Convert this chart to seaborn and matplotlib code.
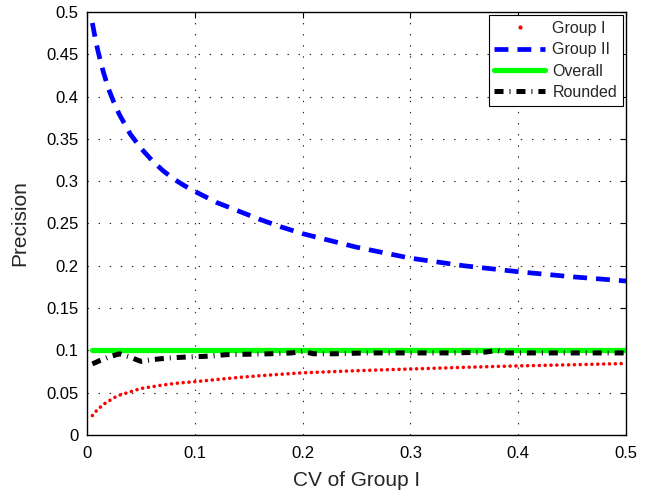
import matplotlib
matplotlib.use("Agg")
import matplotlib.pyplot as plt
import seaborn as sns
from matplotlib.lines import Line2D

# ---------------- data ----------------
cv = [0.005, 0.0075, 0.01, 0.0125, 0.015, 0.02, 0.025, 0.03, 0.04, 0.05, 0.06, 0.07, 0.08, 0.09,
      0.1, 0.12, 0.14, 0.16, 0.18, 0.2, 0.25, 0.3, 0.35, 0.4, 0.45, 0.5]
group1 = [0.023, 0.027, 0.030, 0.033, 0.036, 0.040, 0.044, 0.047, 0.051, 0.055, 0.057, 0.059,
          0.0607, 0.062, 0.063, 0.0655, 0.068, 0.070, 0.0718, 0.0735, 0.076, 0.078, 0.080,
          0.0817, 0.083, 0.0845]
group2 = [0.487, 0.470, 0.455, 0.442, 0.430, 0.409, 0.393, 0.379, 0.356, 0.339, 0.325, 0.313,
          0.303, 0.295, 0.288, 0.275, 0.265, 0.255, 0.246, 0.238, 0.222, 0.209, 0.200, 0.193,
          0.187, 0.182]
overall_x = [0.005, 0.5]
overall = [0.1, 0.1]
rounded_x = [0.005, 0.012, 0.02, 0.03, 0.04, 0.05, 0.06, 0.075, 0.09, 0.11, 0.13, 0.15, 0.17,
             0.19, 0.2, 0.21, 0.23, 0.26, 0.3, 0.34, 0.37, 0.38, 0.39, 0.42, 0.46, 0.5]
rounded = [0.084, 0.088, 0.092, 0.096, 0.092, 0.087, 0.089, 0.091, 0.092, 0.093, 0.095, 0.0955,
           0.096, 0.097, 0.099, 0.096, 0.096, 0.097, 0.097, 0.097, 0.098, 0.100, 0.097, 0.097,
           0.097, 0.097]
labels = ["Group I", "Group II", "Overall", "Rounded"]
xticks = [0, 0.1, 0.2, 0.3, 0.4, 0.5]
yticks = [0, 0.05, 0.1, 0.15, 0.2, 0.25, 0.3, 0.35, 0.4, 0.45, 0.5]

# ---------------- style ----------------
sns.set_style("white")
plt.rcParams["font.family"] = ["Liberation Sans", "DejaVu Sans"]
plt.rcParams["lines.scale_dashes"] = False

fig = plt.figure(figsize=(6.55, 4.96), dpi=100)
ax = fig.add_axes([0.1328, 0.123, 0.8229, 0.8528])

blue_ls = (0, (10.0, 6.5))
black_ls = (0, (6.5, 4.3, 0.7, 4.3))
sns.lineplot(x=cv, y=group2, color="#0000FF", lw=3.4, ax=ax, linestyle=blue_ls)
sns.lineplot(x=overall_x, y=overall, color="#00FF00", lw=3.8, ax=ax)
sns.lineplot(x=rounded_x, y=rounded, color="black", lw=3.6, ax=ax, linestyle=black_ls)
sns.lineplot(x=cv, y=group1, color="#FF0000", lw=2.6, ax=ax,
             linestyle=(0, (0.01, 4.2)), solid_capstyle="round", dash_capstyle="round")

ax.set_xlim(0, 0.5)
ax.set_ylim(0, 0.5)
ax.set_xticks(xticks)
ax.set_xticklabels([f"{t:g}" for t in xticks])
ax.set_yticks(yticks)
ax.set_yticklabels([f"{t:g}" for t in yticks])
ax.tick_params(axis="both", direction="in", length=4, width=0.8, labelsize=12,
               top=True, right=True, colors="black")
ax.tick_params(axis="x", pad=8)
ax.tick_params(axis="y", pad=6)
for s in ax.spines.values():
    s.set_visible(True)
    s.set_color("black")
    s.set_linewidth(1.0)
ax.grid(True, color="#222222", linestyle=(0, (1.0, 7.0)), linewidth=0.8)
ax.set_axisbelow(True)

ax.set_xlabel("CV of Group I", fontsize=15, labelpad=7)
ax.set_ylabel("Precision", fontsize=15, labelpad=12)

handles = [
    Line2D([], [], color="#FF0000", marker=".", markersize=4, linestyle="none"),
    Line2D([], [], color="#0000FF", lw=3.4, linestyle=blue_ls),
    Line2D([], [], color="#00FF00", lw=3.8),
    Line2D([], [], color="black", lw=3.6, linestyle=black_ls),
]
leg = ax.legend(handles, labels, loc="upper right", fontsize=11.5, frameon=True,
                fancybox=False, framealpha=1, edgecolor="black", borderaxespad=0.2,
                handlelength=3.2, handletextpad=0.45, labelspacing=0.4, borderpad=0.35)
leg.get_frame().set_linewidth(0.8)

fig.savefig("out.png", dpi=100)
